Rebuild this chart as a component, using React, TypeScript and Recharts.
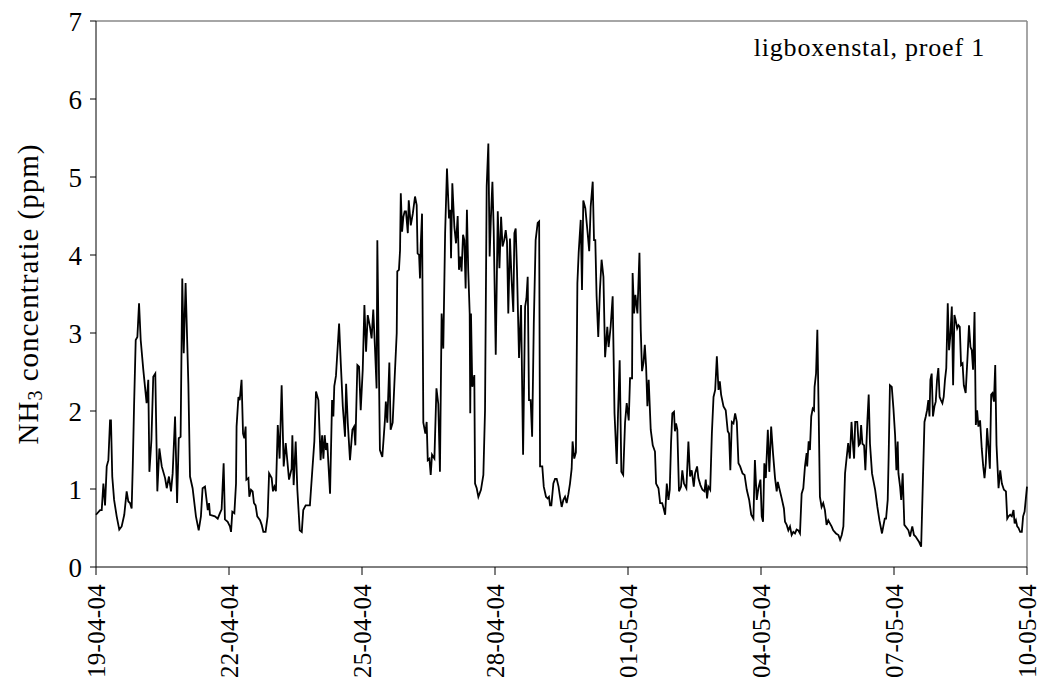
import React from 'react';
import { LineChart, Line, XAxis, YAxis, ReferenceLine } from 'recharts';

// hours since 19-04-04 00:00
const hours = [
  0, 2.2, 3.1, 4.0, 4.9, 5.8, 6.7, 7.6, 8.1, 8.8, 9.8, 11.2, 12.6, 13.9, 15.3, 16.6, 17.5, 18.4, 19.3, 19.9,
  20.6, 21.5, 22.4, 23.3, 24.2, 25.6, 27.4, 28.3, 28.9, 30.0, 31.0, 32.1, 33.2, 34.3, 35.6, 37.4, 38.3, 39.5, 40.6, 41.5,
  42.8, 43.9, 44.8, 45.8, 46.7, 47.5, 48.5, 50.0, 50.9, 52.3, 54.1, 55.6, 56.8, 57.7,
  59.0, 60.5, 61.2, 61.7, 64.4, 65.9, 67.1, 68.0, 69.1, 69.8, 71.3, 72.5, 73.1, 73.8, 74.9, 75.8, 76.1, 77.1, 77.8, 78.8,
  79.6, 80.3, 81.0, 81.4, 82.5, 83.0, 83.9, 84.8, 85.5, 86.4, 87.3, 88.8, 89.7, 90.6, 91.8, 92.9, 93.7, 95.1, 95.8, 96.6,
  97.4, 98.4, 99.4, 100.5, 101.6, 102.7, 104.5, 105.9, 106.3, 107.0, 108.1, 109.0, 110.3, 111.4, 112.2, 113.5, 115.8, 117.1, 118.2, 119.1,
  120.4,
  121.6, 122.4, 123.1, 123.8, 124.5, 125.2, 126.7, 127.8, 128.5, 129.0, 129.9, 131.6, 132.5, 133.6, 134.8, 135.4, 136.3, 137.5, 138.8, 139.7,
  140.4, 141.5, 142.4, 143.3, 144.4, 145.3, 146.2, 147.1, 148.3, 149.2, 150.1, 151.0, 151.9, 152.3, 153.7, 155.0, 156.4, 156.9, 157.7, 158.8,
  159.5, 160.6, 161.7, 162.8, 163.1, 164.0, 164.6, 165.0, 165.7, 166.4, 167.1, 167.8, 168.8, 169.3, 170.4, 171.5, 172.7, 173.6, 174.1, 174.9,
  175.4, 175.8, 176.5, 177.2, 178.3, 179.0, 179.6, 180.5, 181.2, 181.9, 183.2,
  184.3, 185.3, 186.2, 187.1, 188.0, 189.0, 190.0, 191.1, 191.8, 192.2, 192.9, 194.0, 194.9, 195.8, 196.5, 197.2, 197.9, 198.7, 199.4, 200.1,
  200.8, 201.5, 202.3, 202.6, 203.0, 203.7, 204.8, 205.2, 206.1, 207.0, 208.4, 209.7, 210.6, 211.5, 212.4, 213.1, 213.8, 214.6, 215.3, 216.4,
  217.5, 218.4, 219.3, 220.1, 221.0, 221.8, 222.5, 223.2, 224.1, 225.0, 225.9, 226.5, 227.2, 227.9, 229.0, 230.1, 231.2, 232.3, 233.0, 233.7,
  234.4, 235.3, 236.1, 237.0, 238.0, 239.1, 239.9, 240.4, 241.6, 242.4, 243.6, 244.5, 245.2,
  245.8, 246.5, 247.6, 248.5, 249.4, 250.4, 251.2, 252.1, 253.0, 253.9, 254.8, 255.7, 256.6, 257.5, 258.0, 258.9, 259.8, 260.6, 261.3, 262.4,
  263.1, 263.8, 264.9, 266.0, 267.0, 267.8, 268.9, 269.6, 270.3, 271.0, 271.9, 272.8, 273.7, 274.7, 275.6, 276.8, 277.5, 278.6, 279.7, 280.7,
  281.9, 282.6, 283.5, 284.4, 285.4, 286.4, 287.3, 288.4, 289.1, 290.2, 290.5, 291.3, 292.0, 293.1, 294.2, 294.9, 295.6, 296.4, 297.1, 297.8,
  298.5, 299.2, 300.3, 301.4, 302.6, 303.2, 304.5, 305.4, 306.5, 307.2,
  308.1, 309.0, 309.9, 310.6, 311.3, 312.0, 312.9, 313.4, 314.0, 314.7, 315.6, 316.7, 317.4, 318.3, 319.6, 320.7, 321.6, 322.5, 323.6, 324.3,
  325.4, 326.1, 327.2, 328.3, 329.4, 330.1, 330.8, 331.5, 332.5, 333.4, 334.3, 335.2, 336.1, 337.0, 337.7, 338.4, 339.7, 340.9, 342.0, 342.7,
  343.4, 344.2, 345.1, 346.0, 346.9, 347.8, 348.7, 350.0, 351.1, 352.3, 353.6, 354.7, 355.9, 356.7, 357.7, 358.6, 359.7, 360.4, 361.1, 361.8,
  362.6, 363.7, 364.5, 365.5, 366.5, 367.6, 368.5, 369.1,
  371.2, 372.4, 373.0, 373.9, 374.8, 375.7, 376.6, 377.5, 378.4, 379.3, 380.2, 381.1, 382.0, 382.9, 383.8, 384.7, 385.0, 385.8, 386.5, 387.2,
  388.0, 388.7, 389.0, 389.8, 390.5, 391.2, 391.9, 392.8, 393.7, 394.6, 395.5, 396.4, 397.3, 398.2, 399.1, 400.6, 401.9, 402.8, 403.7, 404.6,
  405.5, 406.4, 407.2, 408.1, 409.0, 409.6, 410.4, 411.0, 412.1, 412.9, 413.6, 414.2, 414.9, 415.8, 416.5, 417.6, 418.3, 419.0, 420.1, 421.8,
  423.0, 424.1, 425.5, 426.2, 427.0, 427.7, 428.6, 429.1, 429.8, 430.8, 431.7,
  432.6, 433.3, 434.0, 434.4, 435.3, 435.9, 436.7, 437.6, 438.9, 439.8, 440.7, 441.2, 441.9, 442.8, 443.7, 444.8, 445.6, 446.7, 447.6, 448.5,
  449.2, 449.9, 450.6, 451.2, 451.7, 452.4, 453.1, 453.9, 454.6, 455.3, 456.0, 456.7, 457.4, 458.2, 458.9, 459.6, 460.3, 461.1, 461.8, 462.5,
  463.3, 464.0, 464.7, 465.4, 466.2, 466.9, 467.6, 468.3, 469.1, 469.8, 470.8, 471.9, 472.6, 473.4, 474.1, 474.8, 475.6, 476.3, 477.0, 477.7,
  478.6, 479.5, 480.3, 481.0, 481.7, 482.4, 483.2, 483.9, 484.6, 485.3, 486.1, 486.8, 487.5, 488.6, 489.5, 490.4, 491.5, 492.6, 493.3, 494.0,
  494.9, 495.8, 496.7, 497.3, 498.0, 498.7, 499.4, 500.3, 501.2, 501.9, 502.7, 504,
];

// NH3 concentration (ppm)
const nh3 = [
  0.67, 0.73, 0.73, 1.07, 0.79, 1.29, 1.37, 1.88, 1.88, 1.16, 0.86, 0.65, 0.48, 0.52, 0.67, 0.97, 0.84, 0.82, 0.75, 1.29,
  2.06, 2.91, 2.95, 3.38, 2.91, 2.53, 2.10, 2.40, 1.22, 1.63, 2.44, 2.48, 0.97, 1.52, 1.29, 1.14, 1.01, 1.16, 0.97, 1.20,
  1.93, 0.82, 1.65, 1.67, 3.70, 2.74, 3.64, 2.35, 1.16, 1.01, 0.65, 0.47, 0.65, 1.01,
  1.03, 0.73, 0.82, 0.67, 0.65, 0.62, 0.69, 0.74, 1.33, 0.61, 0.58, 0.52, 0.45, 0.71, 0.69, 1.07, 1.80, 2.18, 2.14, 2.40,
  1.71, 1.65, 1.80, 1.12, 1.14, 0.90, 0.99, 0.97, 0.82, 0.79, 0.65, 0.60, 0.54, 0.45, 0.45, 0.65, 1.20, 1.14, 0.97, 1.03,
  0.97, 1.82, 1.39, 2.33, 1.29, 1.59, 1.12, 1.26, 1.69, 1.05, 1.61, 0.99, 0.47, 0.45, 0.73, 0.79, 0.79, 1.24, 1.61, 2.25,
  2.14,
  1.37, 1.69, 1.39, 1.69, 1.50, 1.59, 0.94, 2.14, 1.93, 2.32, 2.45, 3.12, 2.62, 2.06, 1.67, 2.35, 1.85, 1.37, 1.76, 1.80,
  1.56, 2.59, 2.57, 2.01, 2.53, 3.36, 2.76, 3.23, 3.08, 2.93, 3.30, 2.82, 2.29, 4.19, 1.50, 1.41, 1.88, 2.12, 1.85, 2.62,
  1.76, 1.85, 2.44, 3.00, 3.79, 3.81, 4.06, 4.79, 4.30, 4.49, 4.56, 4.56, 4.28, 4.70, 4.38, 4.53, 4.75, 4.64, 4.02, 4.00,
  3.70, 4.13, 4.53, 1.85, 1.71, 1.86, 1.37, 1.39, 1.18, 1.44, 1.39,
  2.29, 2.09, 1.22, 3.25, 2.80, 4.28, 5.11, 4.47, 4.58, 3.96, 4.92, 4.36, 4.15, 4.50, 3.81, 3.98, 3.79, 4.26, 4.19, 3.57,
  4.58, 3.81, 3.25, 1.97, 3.25, 2.31, 2.46, 1.07, 1.01, 0.90, 0.99, 1.18, 2.01, 4.88, 5.43, 3.98, 4.49, 4.94, 4.32, 2.72,
  4.56, 3.83, 4.49, 4.11, 4.19, 4.32, 4.17, 3.25, 4.21, 3.68, 3.27, 4.28, 4.34, 3.81, 2.68, 3.36, 1.44, 3.34, 3.44, 3.72,
  2.14, 2.14, 1.67, 3.12, 4.19, 4.41, 4.43, 1.29, 1.29, 1.03, 0.90, 0.88, 0.90,
  0.79, 0.79, 1.07, 1.13, 1.13, 1.03, 0.90, 0.77, 0.86, 0.90, 0.82, 0.93, 1.07, 1.26, 1.61, 1.39, 1.47, 3.64, 4.03, 4.45,
  3.55, 4.70, 4.60, 4.32, 4.05, 4.62, 4.94, 4.19, 4.19, 3.47, 2.95, 3.55, 3.94, 3.72, 2.69, 3.08, 2.82, 3.08, 3.47, 1.97,
  1.32, 1.97, 2.65, 1.22, 1.18, 1.85, 2.10, 1.88, 2.42, 2.42, 3.77, 3.25, 3.49, 3.25, 4.03, 3.04, 2.51, 2.62, 2.85, 2.57,
  2.06, 2.40, 1.76, 1.56, 1.48, 1.07, 1.01, 0.82, 0.82, 0.76,
  0.67, 1.07, 0.86, 0.99, 1.59, 1.97, 1.99, 1.74, 1.84, 1.76, 0.97, 1.03, 1.24, 1.07, 1.01, 1.61, 1.16, 1.24, 1.03, 1.20,
  1.29, 1.14, 1.05, 0.99, 0.97, 1.12, 0.88, 1.03, 0.99, 1.71, 2.18, 2.27, 2.70, 2.27, 2.38, 2.21, 2.06, 2.01, 1.74, 1.71,
  1.24, 1.86, 1.84, 1.97, 1.86, 1.33, 1.29, 1.20, 1.18, 0.99, 0.86, 0.67, 0.62, 1.37, 0.86, 1.01, 1.12, 0.65, 0.58, 1.33,
  1.14, 1.76, 1.22, 1.80, 1.46, 1.14, 0.97, 1.09,
  0.88, 0.75, 0.58, 0.54, 0.47, 0.52, 0.41, 0.45, 0.43, 0.48, 0.47, 0.43, 0.94, 1.01, 1.29, 1.46, 1.29, 1.61, 1.50, 1.93,
  2.03, 2.01, 2.31, 2.48, 3.04, 2.01, 0.90, 0.77, 0.82, 0.73, 0.54, 0.60, 0.56, 0.52, 0.47, 0.43, 0.41, 0.35, 0.41, 0.52,
  1.20, 1.41, 1.59, 1.39, 1.86, 1.63, 1.39, 1.86, 1.86, 1.56, 1.58, 1.82, 1.58, 1.56, 1.24, 1.88, 2.21, 1.58, 1.20, 0.99,
  0.77, 0.60, 0.43, 0.52, 0.62, 0.62, 0.86, 1.41, 2.33, 2.31, 2.03,
  1.69, 1.24, 1.61, 1.20, 1.03, 0.86, 1.20, 0.54, 0.50, 0.47, 0.39, 0.45, 0.52, 0.41, 0.39, 0.35, 0.32, 0.26, 1.07, 1.86,
  1.93, 2.01, 2.14, 1.93, 2.40, 2.48, 1.93, 2.06, 2.12, 2.40, 2.55, 2.18, 2.14, 2.10, 2.18, 2.40, 2.55, 3.38, 2.78, 2.97,
  3.34, 2.33, 3.23, 3.16, 3.06, 3.10, 3.08, 2.59, 2.61, 2.33, 2.23, 2.74, 3.10, 2.82, 2.78, 2.53, 3.27, 1.82, 2.01, 1.80,
  1.88, 1.52, 1.29, 1.14, 1.33, 1.78, 1.52, 1.26, 2.21, 2.23, 2.12, 2.59, 1.56, 1.01, 1.24, 1.07, 0.99, 0.97, 0.62, 0.65,
  0.67, 0.65, 0.73, 0.56, 0.60, 0.52, 0.50, 0.45, 0.45, 0.65, 0.71, 1.03,
];

const tickHours = [0, 72, 144, 216, 288, 360, 432, 504];
const tickLabels = ['19-04-04', '22-04-04', '25-04-04', '28-04-04', '01-05-04', '04-05-04', '07-05-04', '10-05-04'];
const yTicks = [0, 1, 2, 3, 4, 5, 6, 7];

const data = hours.map((h, i) => ({ h, v: nh3[i] }));

const FONT = '"Liberation Serif", "DejaVu Serif", serif';

function DateTick(props: any) {
  const { x, y, payload } = props;
  const label = tickLabels[tickHours.indexOf(payload.value)];
  return (
    <text
      x={x}
      y={y}
      transform={`rotate(-90, ${x}, ${y})`}
      textAnchor="end"
      dominantBaseline="central"
      fontFamily={FONT}
      fontSize={25}
      letterSpacing={0.3}
      fill="#000"
    >
      {label}
    </text>
  );
}

export default function App() {
  return (
    <div style={{ position: 'absolute', left: 0, top: 0, width: 1039, height: 693, background: '#fff' }}>
      <LineChart width={1039} height={693} data={data} margin={{ top: 21, right: 12, bottom: 0, left: 0 }}>
        <XAxis
          dataKey="h"
          type="number"
          domain={[0, 504]}
          ticks={tickHours}
          interval={0}
          tick={<DateTick />}
          tickSize={8}
          tickMargin={9}
          height={126}
          axisLine={{ stroke: '#000' }}
          tickLine={{ stroke: '#000' }}
        />
        <YAxis
          type="number"
          domain={[0, 7]}
          ticks={yTicks}
          interval={0}
          width={96}
          tickSize={6}
          tickMargin={8}
          tick={{ fill: '#000', fontSize: 27, fontFamily: FONT }}
          axisLine={{ stroke: '#000' }}
          tickLine={{ stroke: '#000' }}
        />
        <ReferenceLine y={7} stroke="#888" strokeWidth={1.5} />
        <ReferenceLine x={504} stroke="#888" strokeWidth={1.5} />
        <Line
          type="linear"
          dataKey="v"
          stroke="#000"
          strokeWidth={1.8}
          dot={false}
          isAnimationActive={false}
        />
      </LineChart>
      <svg
        width={60}
        height={693}
        style={{ position: 'absolute', left: 0, top: 0, pointerEvents: 'none' }}
      >
        <text
          x={28}
          y={294}
          transform="rotate(-90, 28, 294)"
          textAnchor="middle"
          dominantBaseline="central"
          fontFamily={FONT}
          fontSize={29}
          letterSpacing={1}
          fill="#000"
        >
          NH
          <tspan dy={7} fontSize={20}>3</tspan>
          <tspan dy={-7}> concentratie (ppm)</tspan>
        </text>
      </svg>
      <div
        style={{
          position: 'absolute',
          right: 54,
          top: 35,
          fontFamily: FONT,
          fontSize: 26,
          letterSpacing: 0.8,
          lineHeight: '26px',
          color: '#000',
          whiteSpace: 'nowrap',
        }}
      >
        ligboxenstal, proef 1
      </div>
    </div>
  );
}
